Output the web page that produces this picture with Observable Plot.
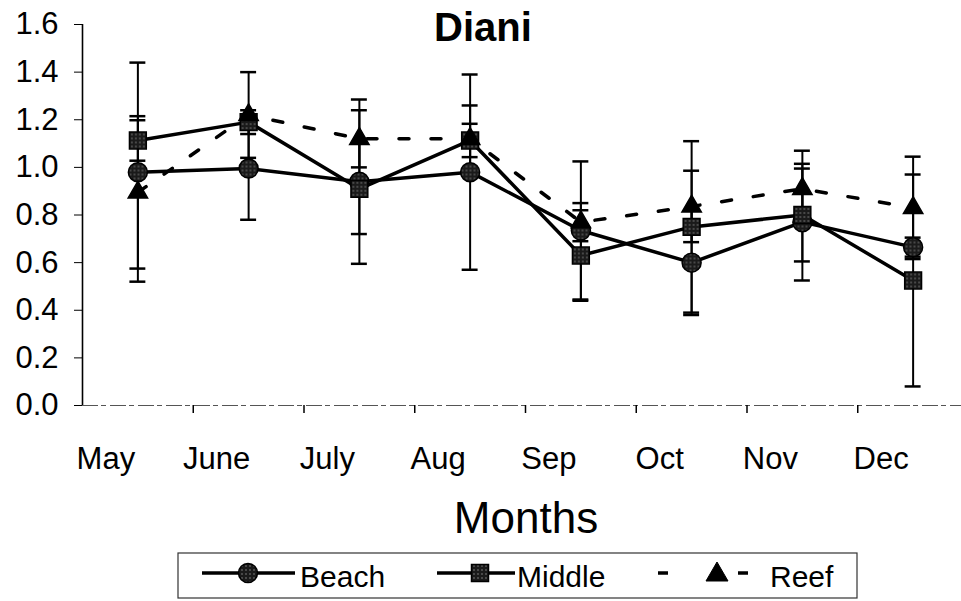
<!DOCTYPE html>
<html>
<head>
<meta charset="utf-8">
<script src="https://cdn.jsdelivr.net/npm/d3@7"></script>
<script src="https://cdn.jsdelivr.net/npm/@observablehq/plot@0.6"></script>
<style>
  html, body { margin: 0; padding: 0; background: white; }
  #wrap { position: relative; width: 961px; height: 601px; overflow: hidden; font-family: "Liberation Sans", Arial, sans-serif; }
  #wrap svg { position: absolute; left: 0; top: 0; }
</style>
</head>
<body>
<div id="wrap"></div>
<script>
const months = ["May", "June", "July", "Aug", "Sep", "Oct", "Nov", "Dec"];
const beach     = [0.98, 0.995, 0.94, 0.98, 0.735, 0.60, 0.77, 0.665];
const beachErr  = [0.46, 0.215, 0.345, 0.41, 0.29, 0.22, 0.245, 0.04];
const middle    = [1.113, 1.19, 0.91, 1.113, 0.63, 0.75, 0.80, 0.525];
const middleErr = [0.085, 0.05, 0.19, 0.07, 0.19, 0.36, 0.195, 0.445];
const reef      = [0.895, 1.22, 1.12, 1.12, 0.77, 0.836, 0.91, 0.83];
const reefErr   = [0.32, 0.18, 0.12, 0.14, 0.08, 0.15, 0.16, 0.215];
const yTicks = [0, 0.2, 0.4, 0.6, 0.8, 1.0, 1.2, 1.4, 1.6];
const seriesNames = ["Beach", "Middle", "Reef"];

const FONT = '"Liberation Sans", Arial, sans-serif';
const mk = (name, vals, errs) => vals.map((v, i) => ({series: name, i, v, e: errs[i]}));
const bRows = mk(seriesNames[0], beach, beachErr);
const mRows = mk(seriesNames[1], middle, middleErr);
const rRows = mk(seriesNames[2], reef, reefErr);
const all = [...bRows, ...mRows, ...rRows];
const capHalf = 0.072;
const idx = months.map((_, i) => i);
const bounds = idx.slice(0, -1).map(i => i + 0.5);

const chart = Plot.plot({
  width: 961,
  height: 601,
  marginLeft: 82,
  marginRight: 0,
  marginTop: 24,
  marginBottom: 196,
  style: {fontFamily: FONT, background: "white", color: "black"},
  x: {domain: [-0.5, 7.5], range: [82, 968], axis: null},
  y: {domain: [0, 1.6], range: [405, 24], axis: null},
  marks: [
    Plot.ruleY([0], {stroke: "#555", strokeWidth: 1.2, strokeDasharray: "16,3,5,4"}),
    Plot.ruleX([-0.5], {y1: 0, y2: 1.6, stroke: "black", strokeWidth: 1.6}),
    Plot.axisY({ticks: yTicks, tickFormat: d3.format(".1f"), tickSize: 8, tickPadding: 16, fontSize: 31, strokeWidth: 1, label: null}),
    Plot.axisX({ticks: bounds, tickFormat: () => "", tickSize: 8, strokeWidth: 1.5, label: null}),
    Plot.axisX({ticks: idx, tickFormat: d => months[d], tickSize: 0, tickPadding: 41, dx: -32, fontSize: 31, label: null}),
    Plot.line(bRows, {x: "i", y: "v", stroke: "black", strokeWidth: 3.5}),
    Plot.line(mRows, {x: "i", y: "v", stroke: "black", strokeWidth: 3.5}),
    Plot.line(rRows, {x: "i", y: "v", stroke: "black", strokeWidth: 3.5, strokeDasharray: "10,22"}),
    Plot.ruleX(all, {x: "i", y1: d => d.v - d.e, y2: d => d.v + d.e, stroke: "black", strokeWidth: 2}),
    Plot.ruleY(all, {y: d => d.v + d.e, x1: d => d.i - capHalf, x2: d => d.i + capHalf, stroke: "black", strokeWidth: 2.5}),
    Plot.ruleY(all, {y: d => d.v - d.e, x1: d => d.i - capHalf, x2: d => d.i + capHalf, stroke: "black", strokeWidth: 2.5}),
    Plot.dot(bRows, {x: "i", y: "v", symbol: "circle", r: 9.5, fill: "url(#stipA)", stroke: "black", strokeWidth: 1.5}),
    Plot.dot(mRows, {x: "i", y: "v", symbol: "square", r: 9.5, fill: "url(#stipA)", stroke: "black", strokeWidth: 1.5}),
    Plot.dot(rRows, {x: "i", y: "v", symbol: "triangle", r: 7.2, fill: "black", stroke: "black", strokeWidth: 1.5})
  ]
});

const NS = "http://www.w3.org/2000/svg";
function stipple(id) {
  const defs = document.createElementNS(NS, "defs");
  defs.innerHTML = `<pattern id="${id}" width="4" height="4" patternUnits="userSpaceOnUse">
    <rect width="4" height="4" fill="#1a1a1a"/><circle cx="2" cy="2" r="0.7" fill="#999"/></pattern>`;
  return defs;
}
chart.insertBefore(stipple("stipA"), chart.firstChild);
document.getElementById("wrap").appendChild(chart);

// Overlay: title, axis title, legend
const ov = document.createElementNS(NS, "svg");
ov.setAttribute("width", 961);
ov.setAttribute("height", 601);
ov.setAttribute("font-family", FONT);
ov.appendChild(stipple("stipB"));
const ly = 573;
ov.innerHTML += `
  <text x="483" y="41" text-anchor="middle" font-size="40" font-weight="bold">Diani</text>
  <text x="526" y="533" text-anchor="middle" font-size="44">Months</text>
  <rect x="178" y="553" width="679" height="45" fill="none" stroke="#333" stroke-width="1.2"/>
  <line x1="202" x2="295" y1="${ly}" y2="${ly}" stroke="black" stroke-width="3.5"/>
  <circle cx="248" cy="${ly}" r="9.5" fill="url(#stipB)" stroke="black" stroke-width="1.5"/>
  <text x="300" y="587" font-size="30">${seriesNames[0]}</text>
  <line x1="437" x2="515" y1="${ly}" y2="${ly}" stroke="black" stroke-width="3.5"/>
  <rect x="471.5" y="${ly - 8.5}" width="17" height="17" fill="url(#stipB)" stroke="black" stroke-width="1.5"/>
  <text x="517" y="587" font-size="30">${seriesNames[1]}</text>
  <line x1="658" x2="668" y1="${ly}" y2="${ly}" stroke="black" stroke-width="3.5"/>
  <line x1="738" x2="748" y1="${ly}" y2="${ly}" stroke="black" stroke-width="3.5"/>
  <path d="M717,${ly - 11} L728,${ly + 8} L706,${ly + 8} Z" fill="black" stroke="black" stroke-width="1"/>
  <text x="770" y="587" font-size="30">${seriesNames[2]}</text>
`;
document.getElementById("wrap").appendChild(ov);
</script>
</body>
</html>
